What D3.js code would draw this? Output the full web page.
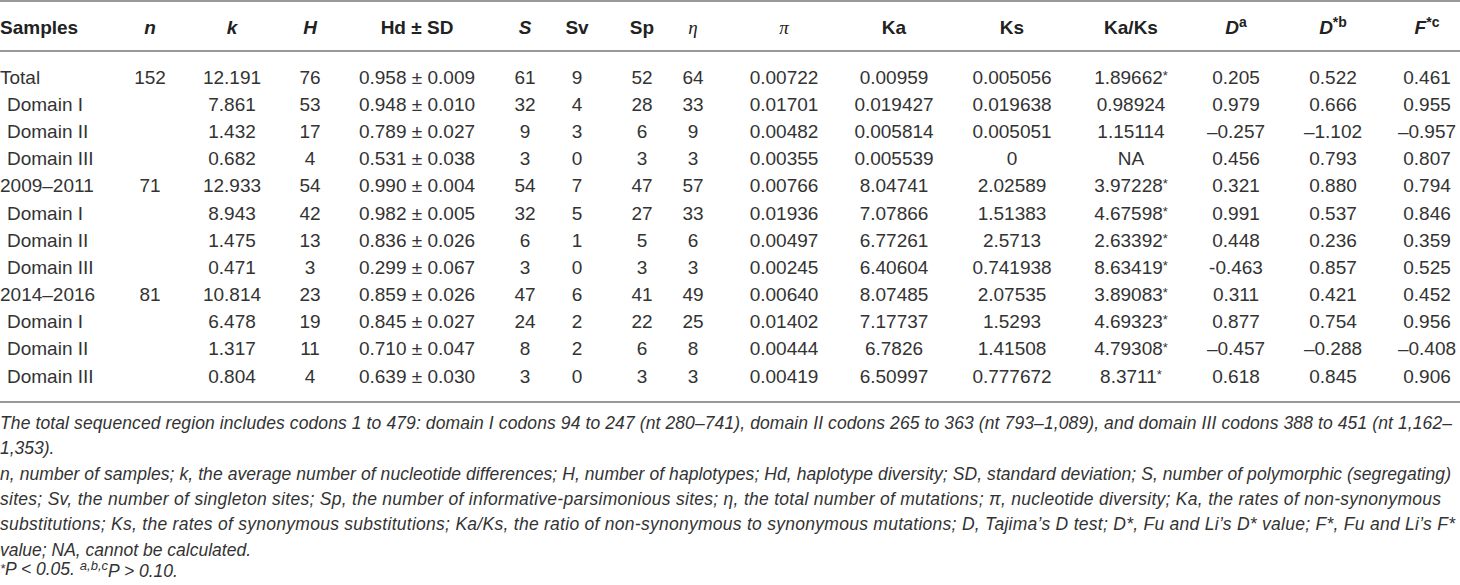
<!DOCTYPE html>
<html>
<head>
<meta charset="utf-8">
<script src="https://cdn.jsdelivr.net/npm/d3@7"></script>
<style>
  body { margin: 0; background: #fff; }
  svg { display: block; }
</style>
</head>
<body>
<div id="chart"></div>
<script>
// table values, one array per column
const samples = ["Total", "Domain I", "Domain II", "Domain III",
  "2009–2011", "Domain I", "Domain II", "Domain III",
  "2014–2016", "Domain I", "Domain II", "Domain III"];
const nValues = [152, null, null, null, 71, null, null, null, 81, null, null, null];
const kValues = [12.191, 7.861, 1.432, 0.682, 12.933, 8.943, 1.475, 0.471, 10.814, 6.478, 1.317, 0.804];
const hValues = [76, 53, 17, 4, 54, 42, 13, 3, 23, 19, 11, 4];
const hdValues = [0.958, 0.948, 0.789, 0.531, 0.990, 0.982, 0.836, 0.299, 0.859, 0.845, 0.710, 0.639];
const sdValues = [0.009, 0.010, 0.027, 0.038, 0.004, 0.005, 0.026, 0.067, 0.026, 0.027, 0.047, 0.030];
const sValues = [61, 32, 9, 3, 54, 32, 6, 3, 47, 24, 8, 3];
const svValues = [9, 4, 3, 0, 7, 5, 1, 0, 6, 2, 2, 0];
const spValues = [52, 28, 6, 3, 47, 27, 5, 3, 41, 22, 6, 3];
const etaValues = [64, 33, 9, 3, 57, 33, 6, 3, 49, 25, 8, 3];
const piValues = [0.00722, 0.01701, 0.00482, 0.00355, 0.00766, 0.01936, 0.00497, 0.00245, 0.00640, 0.01402, 0.00444, 0.00419];
const kaValues = ["0.00959", "0.019427", "0.005814", "0.005539", "8.04741", "7.07866", "6.77261", "6.40604", "8.07485", "7.17737", "6.7826", "6.50997"];
const ksValues = ["0.005056", "0.019638", "0.005051", "0", "2.02589", "1.51383", "2.5713", "0.741938", "2.07535", "1.5293", "1.41508", "0.777672"];
const kaKsValues = ["1.89662*", "0.98924", "1.15114", "NA", "3.97228*", "4.67598*", "2.63392*", "8.63419*", "3.89083*", "4.69323*", "4.79308*", "8.3711*"];
const dValues = ["0.205", "0.979", "–0.257", "0.456", "0.321", "0.991", "0.448", "-0.463", "0.311", "0.877", "–0.457", "0.618"];
const dStarValues = ["0.522", "0.666", "–1.102", "0.793", "0.880", "0.537", "0.236", "0.857", "0.421", "0.754", "–0.288", "0.845"];
const fStarValues = ["0.461", "0.955", "–0.957", "0.807", "0.794", "0.846", "0.359", "0.525", "0.452", "0.956", "–0.408", "0.906"];

const footnotes = [
  "The total sequenced region includes codons 1 to 479: domain I codons 94 to 247 (nt 280–741), domain II codons 265 to 363 (nt 793–1,089), and domain III codons 388 to 451 (nt 1,162–",
  "1,353).",
  "n, number of samples; k, the average number of nucleotide differences; H, number of haplotypes; Hd, haplotype diversity; SD, standard deviation; S, number of polymorphic (segregating)",
  "sites; Sv, the number of singleton sites; Sp, the number of informative-parsimonious sites; η, the total number of mutations; π, nucleotide diversity; Ka, the rates of non-synonymous",
  "substitutions; Ks, the rates of synonymous substitutions; Ka/Ks, the ratio of non-synonymous to synonymous mutations; D, Tajima’s D test; D*, Fu and Li’s D* value; F*, Fu and Li’s F*",
  "value; NA, cannot be calculated."
];

const f3 = d3.format(".3f");
const f5 = d3.format(".5f");

// columns: key, header, header style, cell text
const columns = [
  { key: "samples", label: "Samples", cell: (i) => samples[i] },
  { key: "n", label: "n", italic: true, cell: (i) => (nValues[i] == null ? "" : nValues[i]) },
  { key: "k", label: "k", italic: true, cell: (i) => f3(kValues[i]) },
  { key: "H", label: "H", italic: true, cell: (i) => hValues[i] },
  { key: "hd", label: "Hd ± SD", cell: (i) => `${f3(hdValues[i])} ± ${f3(sdValues[i])}` },
  { key: "S", label: "S", italic: true, cell: (i) => sValues[i] },
  { key: "Sv", label: "Sv", cell: (i) => svValues[i] },
  { key: "Sp", label: "Sp", cell: (i) => spValues[i] },
  { key: "eta", label: "η", greek: true, cell: (i) => etaValues[i] },
  { key: "pi", label: "π", greek: true, cell: (i) => f5(piValues[i]) },
  { key: "Ka", label: "Ka", cell: (i) => kaValues[i] },
  { key: "Ks", label: "Ks", cell: (i) => ksValues[i] },
  { key: "KaKs", label: "Ka/Ks", cell: (i) => kaKsValues[i] },
  { key: "D", label: "D", sup: "a", italic: true, cell: (i) => dValues[i] },
  { key: "Dstar", label: "D", sup: "*b", italic: true, cell: (i) => dStarValues[i] },
  { key: "Fstar", label: "F", sup: "*c", italic: true, cell: (i) => fStarValues[i] }
];

// layout
const w = 1460;
const h = 585;
const fontFamily = "'Liberation Sans', Arial, Helvetica, sans-serif";
const textColour = "#333";
const ruleColour = "#999";
const colCenters = [0, 150, 232, 310, 417, 525, 577, 642, 693, 784, 894, 1012, 1131, 1236, 1333, 1427];

const svg = d3.select("#chart").append("svg").attr("width", w).attr("height", h)
  .style("font-family", fontFamily).style("fill", textColour);

const xScale = d3.scaleOrdinal().domain(columns.map((c) => c.key)).range(colCenters);
const yScale = d3.scalePoint().domain(d3.range(samples.length)).range([77, 376]);

// rules (top, under the header, under the body)
const rules = [1, 51, 402];
svg.selectAll("rect.rule").data(rules).enter().append("rect")
  .attr("class", "rule")
  .attr("x", 0).attr("width", w)
  .attr("y", (d) => d - 1).attr("height", 2)
  .style("fill", ruleColour);

// header
const header = svg.selectAll("text.head").data(columns).enter().append("text")
  .attr("class", "head")
  .attr("x", (d) => xScale(d.key))
  .attr("y", 27)
  .attr("dy", "0.35em")
  .attr("text-anchor", (d) => (d.key === "samples" ? "start" : "middle"))
  .style("font-size", "19px")
  .style("fill", "#222")
  .style("font-weight", (d) => (d.greek ? "normal" : "bold"))
  .style("font-style", (d) => (d.italic || d.greek ? "italic" : "normal"))
  .style("font-family", (d) => (d.greek ? "'Liberation Serif', 'Times New Roman', serif" : null));

header.append("tspan").text((d) => d.label);
header.filter((d) => d.sup).append("tspan")
  .attr("dy", "-0.45em")
  .style("font-size", "14px")
  .style("font-style", "normal")
  .text((d) => d.sup);

// body cells
const rowsG = svg.selectAll("g.row").data(samples).enter().append("g")
  .attr("class", "row")
  .attr("transform", (d, i) => `translate(0,${yScale(i)})`);

rowsG.each(function (s, i) {
  const g = d3.select(this);
  const indent = s.startsWith("Domain") ? 7 : 0;
  g.selectAll("text").data(columns).enter().append("text")
    .attr("x", (c) => xScale(c.key) + (c.key === "samples" ? indent : 0))
    .attr("dy", "0.35em")
    .attr("text-anchor", (c) => (c.key === "samples" ? "start" : "middle"))
    .style("font-size", "19px")
    .each(function (c) {
      const t = String(c.cell(i));
      const el = d3.select(this);
      if (t.endsWith("*")) {
        el.append("tspan").text(t.slice(0, -1));
        el.append("tspan").attr("dy", "-0.3em").style("font-size", "13px").text("*");
      } else {
        el.text(t);
      }
    });
});

// footnotes, justified lines spread to the full width
const noteWidths = [1452, null, 1451, 1441, 1455, null];
const noteY = d3.range(7).map((i) => 423 + i * 25.3);
svg.selectAll("text.note").data(footnotes).enter().append("text")
  .attr("class", "note")
  .attr("x", 0)
  .attr("y", (d, i) => noteY[i])
  .attr("dy", "0.35em")
  .attr("textLength", (d, i) => noteWidths[i])
  .attr("lengthAdjust", "spacing")
  .style("font-size", "17.5px")
  .style("font-style", "italic")
  .text((d) => d);

const last = svg.append("text")
  .attr("x", 0).attr("y", noteY[6]).attr("dy", "0.35em")
  .style("font-size", "17.5px").style("font-style", "italic");
last.append("tspan").attr("dy", "-0.15em").style("font-size", "13px").text("*");
last.append("tspan").attr("dy", "0.15em").text("P < 0.05. ");
last.append("tspan").attr("dy", "-0.4em").style("font-size", "13px").text("a,b,c");
last.append("tspan").attr("dy", "0.4em").text("P > 0.10.");
</script>
</body>
</html>
